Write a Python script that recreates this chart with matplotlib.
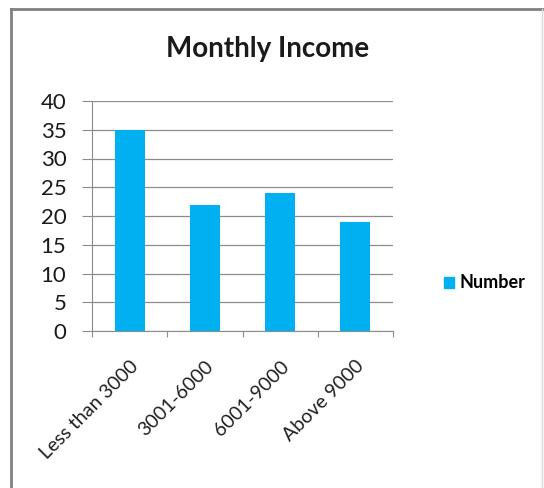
import matplotlib.pyplot as plt
import matplotlib.patches as mpatches
import numpy as np

categories = ['Less than 3000', '3001-6000', '6001-9000', 'Above 9000']
number = [35, 22, 24, 19]
yticks = [0, 5, 10, 15, 20, 25, 30, 35, 40]

plt.rcParams['font.family'] = ['Lato', 'DejaVu Sans']

fig = plt.figure(figsize=(5.44, 4.88), dpi=100)
W, H = 544, 488
ax = fig.add_axes([92 / W, 1 - 331 / H, (393 - 92) / W, (331 - 101) / H])

x = np.arange(len(categories))
bars = ax.bar(x, number, width=0.4, color='#00B0F0', zorder=3, label='Number')

ax.set_xlim(-0.5, len(categories) - 0.5)
ax.set_ylim(0, 40)
ax.set_yticks(yticks)
ax.set_yticklabels([str(v) for v in yticks], fontsize=16, color='#1a1a1a')
ax.yaxis.grid(True, color='#8c8c8c', linewidth=0.9, zorder=0)

# category boundary ticks on x axis
ax.set_xticks(np.arange(len(categories) + 1) - 0.5)
ax.set_xticklabels([])
ax.tick_params(axis='x', length=4, color='#8c8c8c', direction='out')
ax.tick_params(axis='y', length=7.5, color='#8c8c8c', direction='out', pad=11)

for i, lab in enumerate(categories):
    ax.annotate(lab, xy=(i, 0), xycoords='data', xytext=(0, -19),
                textcoords='offset points', rotation=45, ha='right', va='top',
                rotation_mode='anchor', fontsize=14, color='#202020')

for s in ['top', 'right']:
    ax.spines[s].set_visible(False)
ax.spines['left'].set_color('#8c8c8c')
ax.spines['bottom'].set_color('#8c8c8c')

fig.text(268 / W, 1 - 57 / H, 'Monthly Income', ha='center', va='baseline',
         fontsize=20, fontweight='bold', color='#1a1a1a')

handle = mpatches.Patch(color='#00B0F0', label='Number')
fig.legend(handles=[handle], loc='center left', bbox_to_anchor=(428 / W, 1 - 283 / H),
           frameon=False, handlelength=0.55, handleheight=0.55, handletextpad=0.3,
           prop={'size': 13, 'weight': 'bold'})

# chart border
fig.add_artist(plt.Line2D([11 / W, 11 / W], [0, 1 - 9 / H], color='#808080', linewidth=2))
fig.add_artist(plt.Line2D([11 / W, 1], [1 - 9 / H, 1 - 9 / H], color='#808080', linewidth=2))
fig.add_artist(plt.Line2D([542 / W, 542 / W], [0, 1 - 9 / H], color='#d9d9d9', linewidth=1))

fig.savefig('out.png', dpi=100)
